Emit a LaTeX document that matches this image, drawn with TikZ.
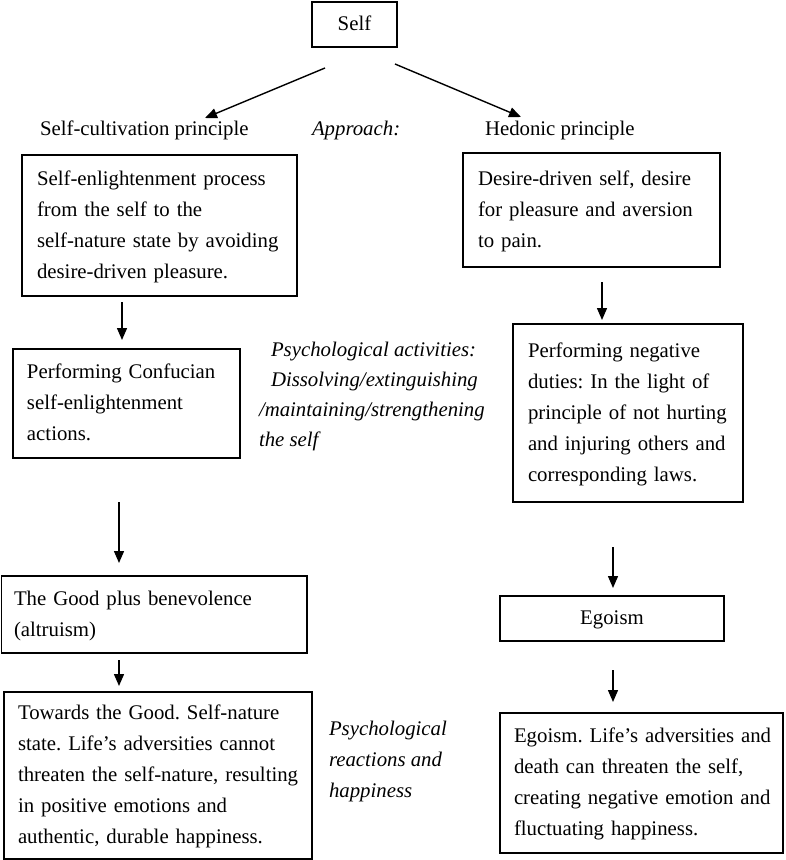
\documentclass[tikz,border=0pt]{standalone}
\usepackage{fontspec}
\setmainfont{Liberation Serif}
\usetikzlibrary{arrows.meta}
\begin{document}
\begin{tikzpicture}[x=1pt,y=-1pt,
  every node/.style={font=\fontsize{20.8}{31}\selectfont\frenchspacing, outer sep=0pt},
  box/.style={draw=black, line width=1.1pt, anchor=north west, align=left, inner ysep=0pt},
  cbox/.style={draw=black, line width=1.1pt, anchor=north west, align=center, inner ysep=0pt},
  arr/.style={line width=1.4pt, -{Triangle[length=12pt,width=10pt]}},
  free/.style={inner sep=0pt, anchor=base west},
  freeblock/.style={inner sep=0pt, anchor=north west, align=left},
]
\useasboundingbox (0,0) rectangle (785,860);

% top
\node[cbox, minimum width=85pt, minimum height=45pt, text width=70pt, inner xsep=7.5pt] (Self) at (312,2) {\strut Self};

\node[free] (SC) at (40,135) {Self-cultivation principle};
\node[free] (AP) at (312,135) {\itshape Approach:};
\node[free] (HP) at (485,135) {Hedonic principle};

\coordinate (s1) at (325,68);
\coordinate (t1) at (205,118);
\coordinate (s2) at (395,64);
\coordinate (t2) at (521,117);
\draw[arr] (s1) -- (t1);
\draw[arr] (s2) -- (t2);

% left column
\node[box, minimum width=275pt, minimum height=141pt, text width=245pt, inner xsep=15pt] (B1L) at (22,155)
 {\strut\mbox{Self-enlightenment process}\\\strut\mbox{from the self to the}\\\strut\mbox{self-nature state by avoiding}\\\strut\mbox{desire-driven pleasure.}};
\node[box, minimum width=227pt, minimum height=109pt, text width=199pt, inner xsep=14pt] (B2L) at (13,349)
 {\strut\mbox{Performing Confucian}\\\strut\mbox{self-enlightenment}\\\strut\mbox{actions.}};
\node[box, minimum width=305.5pt, minimum height=77pt, text width=280.5pt, inner xsep=12.5pt] (B3L) at (1.5,576)
 {\strut\mbox{The Good plus benevolence}\\\strut\mbox{(altruism)}};
\node[box, minimum width=308pt, minimum height=167pt, text width=280pt, inner xsep=14pt] (B4L) at (4,692)
 {\strut\mbox{Towards the Good. Self-nature}\\\strut\mbox{state. Life’s adversities cannot}\\\strut\mbox{threaten the self-nature, resulting}\\\strut\mbox{in positive emotions and}\\\strut\mbox{authentic, durable happiness.}};

% right column
\node[box, minimum width=257pt, minimum height=114pt, text width=227pt, inner xsep=15pt] (B1R) at (463,153)
 {\strut\mbox{Desire-driven self, desire}\\\strut\mbox{for pleasure and aversion}\\\strut\mbox{to pain.}};
\node[box, minimum width=230pt, minimum height=178pt, text width=200pt, inner xsep=15pt] (B2R) at (513,324)
 {\strut\mbox{Performing negative}\\\strut\mbox{duties: In the light of}\\\strut\mbox{principle of not hurting}\\\strut\mbox{and injuring others and}\\\strut\mbox{corresponding laws.}};
\node[cbox, minimum width=224pt, minimum height=45pt, text width=200pt, inner xsep=12pt] (Ego) at (500,596)
 {\strut Egoism};
\node[box, minimum width=283pt, minimum height=140pt, text width=255pt, inner xsep=14pt] (B4R) at (500,713)
 {\strut\mbox{Egoism. Life’s adversities and}\\\strut\mbox{death can threaten the self,}\\\strut\mbox{creating negative emotion and}\\\strut\mbox{fluctuating happiness.}};

% middle italic texts
\node[freeblock, font=\fontsize{20.8}{30}\selectfont\frenchspacing\itshape] (PA) at (259,335.3)
 {\strut\hspace*{12pt}Psychological activities:\\\strut\hspace*{12pt}Dissolving/extinguishing\\\strut/maintaining/strengthening\\\strut the self};
\node[freeblock, font=\fontsize{20.8}{31}\selectfont\frenchspacing\itshape] (PR) at (329,713.3)
 {\strut Psychological\\\strut reactions and\\\strut happiness};

% vertical arrows
\draw[arr, shorten <=6pt, shorten >=9pt] (B1L.south -| 122,0) -- (B2L.north -| 122,0);
\draw[arr, shorten <=44pt, shorten >=13pt] (B2L.south -| 119,0) -- (B3L.north -| 119,0);
\draw[arr, shorten <=7pt, shorten >=6pt] (B3L.south -| 119,0) -- (B4L.north -| 119,0);
\draw[arr, shorten <=15pt, shorten >=4pt] (B1R.south -| 602,0) -- (B2R.north -| 602,0);
\draw[arr, shorten <=45pt, shorten >=8pt] (B2R.south -| 613,0) -- (Ego.north -| 613,0);
\draw[arr, shorten <=29pt, shorten >=11pt] (Ego.south -| 613,0) -- (B4R.north -| 613,0);
\end{tikzpicture}
\end{document}
